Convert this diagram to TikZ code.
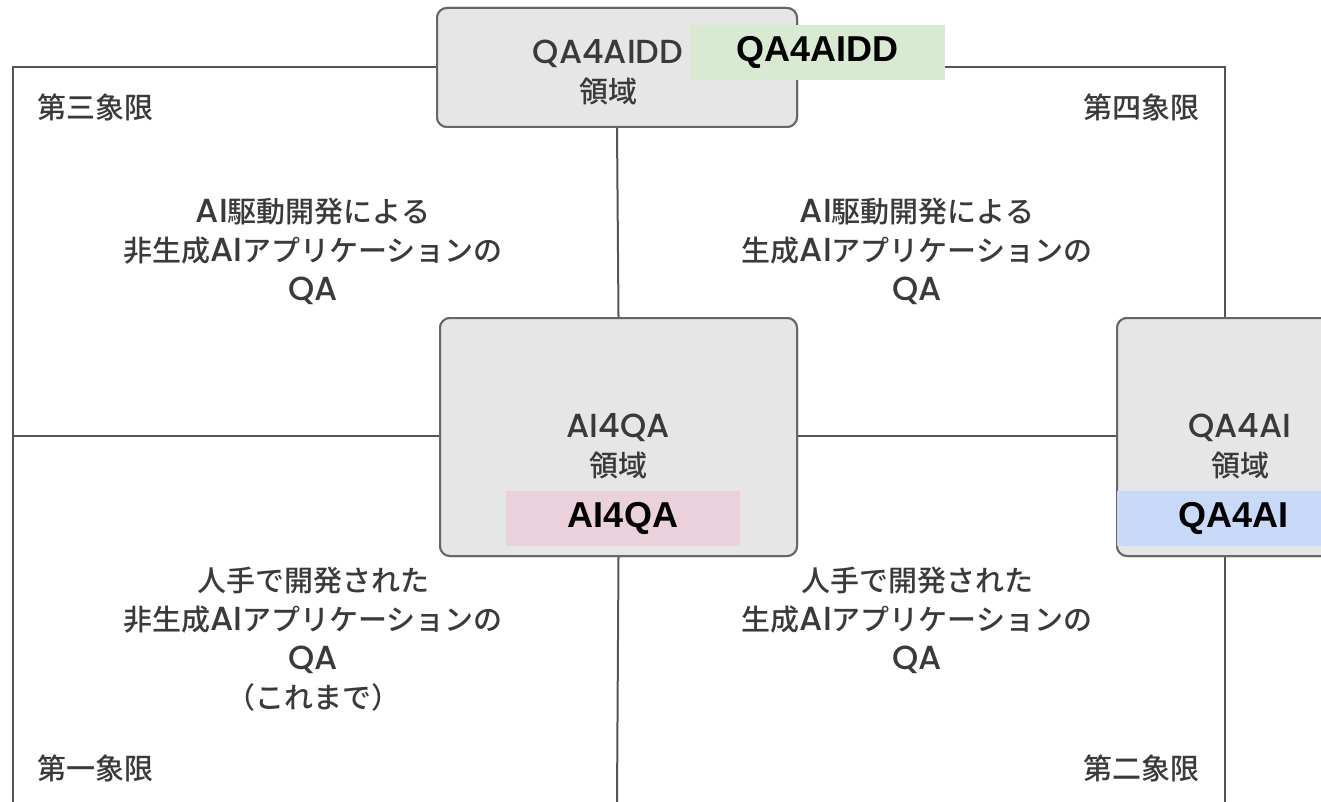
\documentclass[tikz,border=0pt]{standalone}
\usepackage{fontspec}
\setmainfont{Noto Sans CJK JP}[UprightFont={* Medium}]
\newfontfamily\lat{Poppins}[UprightFont={* Medium}, Scale=1.15]
\newfontfamily\labelfont{Liberation Sans}
\newcommand{\la}[1]{{\lat #1}}
\definecolor{boxfill}{HTML}{E6E6E6}
\definecolor{boxline}{HTML}{666666}
\definecolor{frameline}{HTML}{555555}
\definecolor{txt}{HTML}{3A3A3A}
\definecolor{greenlab}{HTML}{D9EAD3}
\definecolor{pinklab}{HTML}{EAD1DC}
\definecolor{bluelab}{HTML}{C9DAF8}
\begin{document}
\begin{tikzpicture}[x=1pt,y=-1pt,
  areabox/.style={draw=boxline, line width=2pt, fill=boxfill, rounded corners=10pt, inner sep=0pt},
  frame/.style={draw=frameline, line width=2pt},
  bodytext/.style={text=txt, font=\fontsize{29}{39}\selectfont, align=center, inner sep=0pt},
  quad/.style={text=txt, font=\fontsize{29}{32}\selectfont, inner sep=0pt},
  tag/.style={font=\labelfont\bfseries\fontsize{36}{40}\selectfont, text=black, inner sep=0pt}
]
\useasboundingbox (0,0) rectangle (1321,802);
\begin{scope}
\clip (0,0) rectangle (1321,802);
% boxes
\node[areabox, minimum width=360pt, minimum height=119pt] (top) at (617,67.5) {};
\node[areabox, minimum width=357pt, minimum height=238pt] (ai) at (618.5,437) {};
\node[areabox, minimum width=250pt, minimum height=238pt] (qa) at (1242,437) {};
% frame and axes
\coordinate (tl) at (13,67);
\coordinate (tr) at (1225,67);
\coordinate (bl) at (13,802);
\coordinate (br) at (1225,802);
\coordinate (ml) at (13,436);
\coordinate (bm) at (617,802);
\draw[frame] (top.west |- tl) -- (tl) -- (bl);
\draw[frame] (top.east |- tr) -- (tr) -- (br);
\draw[frame] (ml) -- (ai.west |- ml);
\draw[frame] (ai.east |- ml) -- (qa.west |- ml);
\draw[frame] (top.south) -- (ai.north);
\draw[frame] (ai.south) -- (bm);
% redraw boxes on top
\node[areabox, minimum width=360pt, minimum height=119pt] at (617,67.5) {};
\node[areabox, minimum width=357pt, minimum height=238pt] at (618.5,437) {};
\node[areabox, minimum width=250pt, minimum height=238pt] at (1242,437) {};
% box texts
\node[bodytext] (toptext) at (608,72) {\la{QA4AIDD}\\領域};
\node[bodytext] (aitext) at (618,446) {\la{AI4QA}\\領域};
\node[bodytext] (qatext) at (1240,446) {\la{QA4AI}\\領域};
% colored tags
\node[tag, fill=greenlab, minimum width=255pt, minimum height=55pt] (gtag) at (817.5,52.5) {QA4AIDD};
\node[tag, fill=pinklab, minimum width=234pt, minimum height=55pt] (ptag) at (623,518.5) {AI4QA};
\node[tag, fill=bluelab, minimum width=204pt, minimum height=55pt] (btag) at (1219,518.5) {};
\node[tag] (btagtext) at (1233,518.5) {QA4AI};
% quadrant contents
\node[bodytext] (ul) at (313,251) {\la{AI}駆動開発による\\非生成\la{AI}アプリケーションの\\\la{QA}};
\node[bodytext] (ur) at (917,251) {\la{AI}駆動開発による\\生成\la{AI}アプリケーションの\\\la{QA}};
\node[bodytext] (ll) at (313,639) {人手で開発された\\非生成\la{AI}アプリケーションの\\\la{QA}\\（これまで）};
\node[bodytext] (lr) at (917,620) {人手で開発された\\生成\la{AI}アプリケーションの\\\la{QA}};
% quadrant labels
\node[quad, anchor=west] (q3) at (37,107) {第三象限};
\node[quad, anchor=east] (q4) at (1200,107) {第四象限};
\node[quad, anchor=west] (q1) at (37,768) {第一象限};
\node[quad, anchor=east] (q2) at (1200,768) {第二象限};
\end{scope}
\end{tikzpicture}
\end{document}
